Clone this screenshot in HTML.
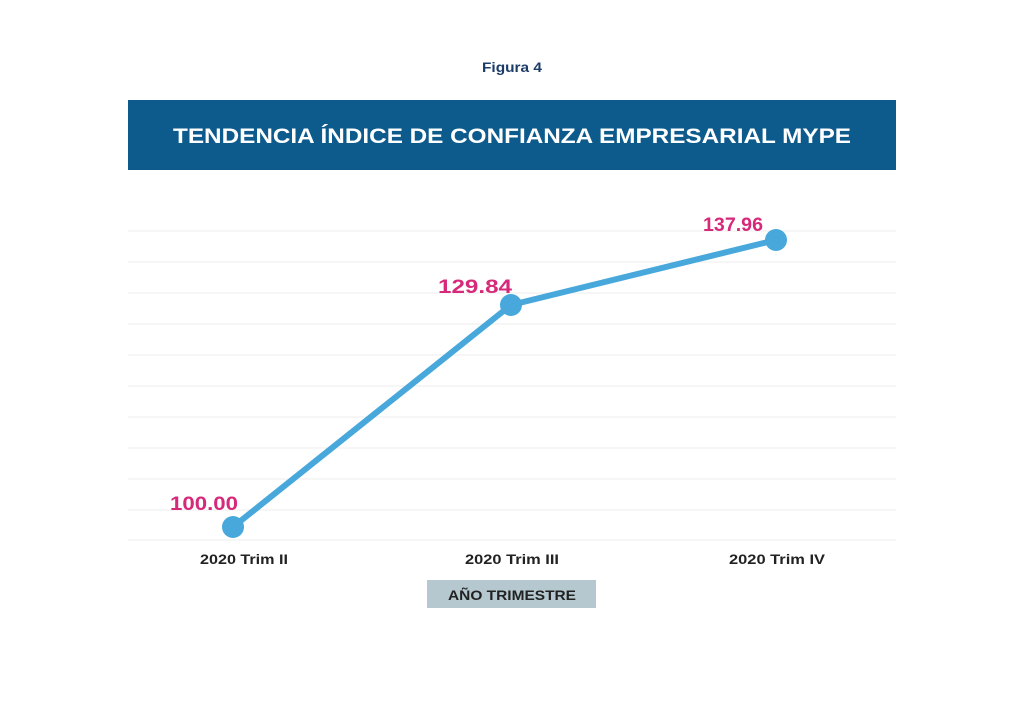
<!DOCTYPE html>
<html><head><style>
body{margin:0;background:#fff;}
svg{display:block;font-family:"Liberation Sans",sans-serif;font-weight:bold;}
</style></head><body>
<svg width="1024" height="709" viewBox="0 0 1024 709">
<rect width="1024" height="709" fill="#fff"/>
<text x="482" y="72" font-size="14" fill="#1c3c68" textLength="60" lengthAdjust="spacingAndGlyphs">Figura 4</text>
<rect x="128" y="100" width="768" height="70" fill="#0d5b8c"/>
<text x="173" y="143" font-size="21" fill="#fff" textLength="678" lengthAdjust="spacingAndGlyphs">TENDENCIA ÍNDICE DE CONFIANZA EMPRESARIAL MYPE</text>
<g stroke="#eeeeee" stroke-width="1">
<line x1="128" x2="896" y1="231" y2="231"/><line x1="128" x2="896" y1="262" y2="262"/>
<line x1="128" x2="896" y1="293" y2="293"/><line x1="128" x2="896" y1="324" y2="324"/>
<line x1="128" x2="896" y1="355" y2="355"/><line x1="128" x2="896" y1="386" y2="386"/>
<line x1="128" x2="896" y1="417" y2="417"/><line x1="128" x2="896" y1="448" y2="448"/>
<line x1="128" x2="896" y1="479" y2="479"/><line x1="128" x2="896" y1="510" y2="510"/>
<line x1="128" x2="896" y1="540" y2="540"/>
</g>
<polyline points="233,527 511,305 776,240" fill="none" stroke="#48a8dc" stroke-width="6" stroke-linejoin="round"/>
<circle cx="233" cy="527" r="11" fill="#48a8dc"/>
<circle cx="511" cy="305" r="11" fill="#48a8dc"/>
<circle cx="776" cy="240" r="11" fill="#48a8dc"/>
<g font-size="19" fill="#d6297a" lengthAdjust="spacingAndGlyphs">
<text x="170" y="510" textLength="68" lengthAdjust="spacingAndGlyphs">100.00</text>
<text x="438" y="293" textLength="74" lengthAdjust="spacingAndGlyphs">129.84</text>
<text x="703" y="231" textLength="60" lengthAdjust="spacingAndGlyphs">137.96</text>
</g>
<g font-size="14" fill="#222">
<text x="200" y="564" textLength="88" lengthAdjust="spacingAndGlyphs">2020 Trim II</text>
<text x="465" y="564" textLength="94" lengthAdjust="spacingAndGlyphs">2020 Trim III</text>
<text x="729" y="564" textLength="96" lengthAdjust="spacingAndGlyphs">2020 Trim IV</text>
</g>
<rect x="427" y="580" width="169" height="28" fill="#b5c8cf"/>
<text x="448" y="600" font-size="14" fill="#222" textLength="128" lengthAdjust="spacingAndGlyphs">AÑO TRIMESTRE</text>
</svg>
</body></html>
